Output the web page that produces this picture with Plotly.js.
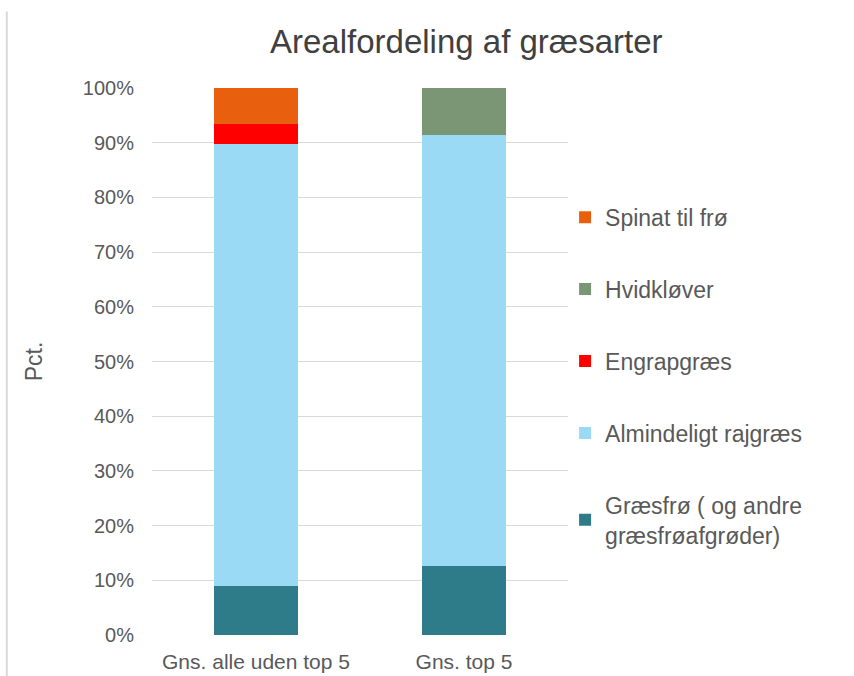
<!DOCTYPE html>
<html>
<head>
<meta charset="utf-8">
<script src="https://cdn.plot.ly/plotly-3.0.1.min.js"></script>
<style>html,body{margin:0;padding:0;background:#fff;}#chart{width:854px;height:676px;}</style>
</head>
<body>
<div id="chart"></div>
<script>
const categories = ["Gns. alle uden top 5", "Gns. top 5"];
const seriesNames = ["Græsfrø ( og andre<br>græsfrøafgrøder)", "Almindeligt rajgræs", "Engrapgræs", "Hvidkløver", "Spinat til frø"];
const graesfro = [9.0, 12.7];
const almindeligt = [80.8, 78.8];
const engrap = [3.6, 0];
const hvidklover = [0, 8.5];
const spinat = [6.6, 0];
const colors = ["#2E7B89", "#9ADAF5", "#FF0000", "#7A9675", "#E8600E"];
const yTickVals = [0, 10, 20, 30, 40, 50, 60, 70, 80, 90, 100];
const yTickText = ["0%", "10%", "20%", "30%", "40%", "50%", "60%", "70%", "80%", "90%", "100%"];

const seriesValues = [graesfro, almindeligt, engrap, hvidklover, spinat];
const traces = seriesValues.map((vals, i) => ({
  type: "bar",
  name: seriesNames[i],
  x: categories,
  y: vals,
  marker: {color: colors[i]},
  legendgroup: "g" + i,
  legendrank: 1000 - i,
  hoverinfo: "name+y"
}));

const layout = {
  width: 854, height: 676,
  barmode: "stack",
  bargap: 0.6,
  paper_bgcolor: "#fff", plot_bgcolor: "#fff",
  font: {family: "Liberation Sans, Arial, sans-serif", color: "#595959", size: 20},
  margin: {l: 152, r: 286, t: 88, b: 41},
  title: {text: "Arealfordeling af græsarter", font: {size: 33, color: "#404040"}, x: 0.546, xref: "container", xanchor: "center", y: 0.938, yref: "container", yanchor: "middle"},
  xaxis: {showgrid: false, zeroline: false, showline: false, ticks: "", tickfont: {size: 21, color: "#595959"}, ticklabelstandoff: 12, fixedrange: true},
  yaxis: {range: [0, 100], tickvals: yTickVals, ticktext: yTickText, showgrid: true, gridcolor: "#D9D9D9", gridwidth: 1, zeroline: false, showline: false, ticks: "", tickfont: {size: 20, color: "#595959"}, ticklabelstandoff: 17,
    title: {text: "Pct.", font: {size: 23, color: "#595959"}, standoff: 33}},
  legend: {traceorder: "grouped", tracegroupgap: 39, x: 0.993, xanchor: "left", y: 0.803, yanchor: "top", font: {size: 23, color: "#595959"}, bgcolor: "rgba(0,0,0,0)"},
  shapes: [{type: "line", xref: "paper", yref: "paper", x0: -0.349, x1: -0.349, y0: -0.075, y1: 1.14, line: {color: "#D9D9D9", width: 2}}]
};

Plotly.newPlot("chart", traces, layout, {displayModeBar: false, staticPlot: true});
</script>
</body>
</html>
